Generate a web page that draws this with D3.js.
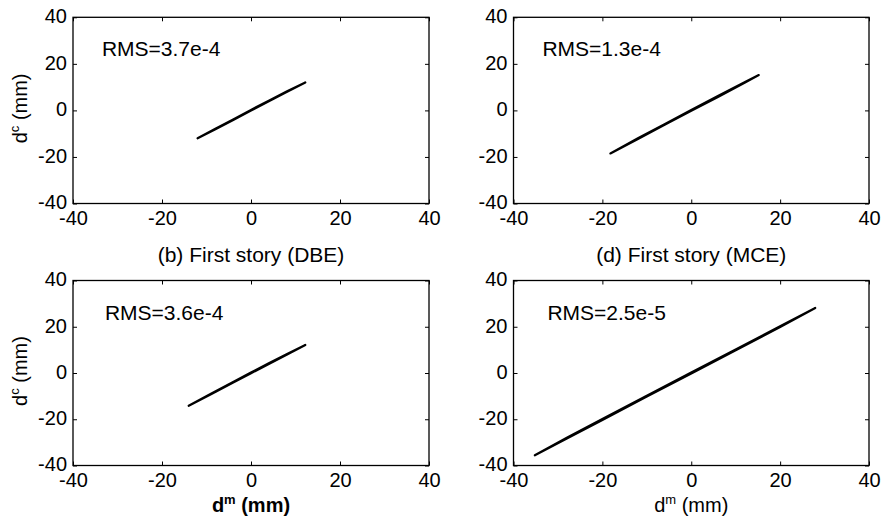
<!DOCTYPE html>
<html><head><meta charset="utf-8">
<script src="https://cdn.jsdelivr.net/npm/d3@7"></script>
<style>
body{margin:0;background:#fff}
svg{display:block}
text{font-family:"Liberation Sans",Arial,Helvetica,sans-serif;fill:#000}
</style>
</head><body>
<svg id="chart" width="883" height="522"></svg>
<script>
// ---- data ----
const tickValues = [-40, -20, 0, 20, 40];
const rmsLabels = ["RMS=3.7e-4", "RMS=1.3e-4", "RMS=3.6e-4", "RMS=2.5e-5"];
const captions = ["(b) First story (DBE)", "(d) First story (MCE)", "", ""];
const p1X = [-12.0, -8.0, -4.0, 0.0, 4.0, 8.0, 12.2, 8.0, 4.0, 0.0, -4.0, -8.0, -12.0];
const p1Y = [-12.0, -8.1, -4.1, -0.1, 3.9, 7.9, 12.0, 8.1, 4.2, 0.2, -3.9, -7.9, -12.0];
const p2X = [-18.2, -12.0, -6.0, 0.0, 6.0, 12.0, 15.2, 12.0, 6.0, 0.0, -6.0, -12.0, -18.2];
const p2Y = [-18.5, -12.3, -6.2, -0.2, 5.8, 11.9, 15.2, 12.1, 6.2, 0.2, -5.9, -12.0, -18.5];
const p3X = [-14.0, -9.0, -4.0, 0.0, 4.0, 8.0, 12.2, 8.0, 4.0, 0.0, -4.0, -9.0, -14.0];
const p3Y = [-14.2, -9.2, -4.1, -0.1, 3.9, 7.9, 12.1, 8.1, 4.2, 0.2, -3.9, -9.0, -14.2];
const p4X = [-35.2, -28.0, -20.0, -10.0, 0.0, 10.0, 20.0, 27.9, 20.0, 10.0, 0.0, -10.0, -20.0, -28.0, -35.2];
const p4Y = [-35.6, -28.3, -20.3, -10.2, -0.2, 9.8, 19.9, 28.1, 20.2, 10.2, 0.2, -9.8, -19.9, -28.0, -35.6];
const seriesX = [p1X, p2X, p3X, p4X];
const seriesY = [p1Y, p2Y, p3Y, p4Y];

// ---- layout ----
const cols = [[73, 429], [513.5, 869]];
const rows = [[17.3, 203.5], [280.5, 465.5]];
const svg = d3.select("#chart");
const fmt = d => String(d);

for (let i = 0; i < 4; i++) {
  const c = cols[i % 2], r = rows[Math.floor(i / 2)];
  const x = d3.scaleLinear().domain([-40, 40]).range(c);
  const y = d3.scaleLinear().domain([-40, 40]).range([r[1], r[0]]);
  const g = svg.append("g");

  const bottom = g.append("g").attr("transform", `translate(0,${r[1]})`)
    .call(d3.axisBottom(x).tickValues(tickValues).tickFormat(fmt).tickSizeInner(-4).tickSizeOuter(0).tickPadding(7));
  const left = g.append("g").attr("transform", `translate(${c[0]},0)`)
    .call(d3.axisLeft(y).tickValues(tickValues).tickFormat(fmt).tickSizeInner(-4).tickSizeOuter(0).tickPadding(6));
  const top = g.append("g").attr("transform", `translate(0,${r[0]})`)
    .call(d3.axisTop(x).tickValues(tickValues).tickSizeInner(-4).tickSizeOuter(0).tickFormat(""));
  const right = g.append("g").attr("transform", `translate(${c[1]},0)`)
    .call(d3.axisRight(y).tickValues(tickValues).tickSizeInner(-4).tickSizeOuter(0).tickFormat(""));
  [bottom, left, top, right].forEach(a => {
    a.select(".domain").remove();
    a.selectAll("line").attr("stroke", "#000").attr("stroke-width", 1);
    a.selectAll("text").attr("font-size", 20).attr("font-family", "Liberation Sans, Arial, sans-serif").attr("fill", "#000");
  });
  left.selectAll("text").attr("dy", "0.27em");

  g.append("rect").attr("x", c[0]).attr("y", r[0]).attr("width", c[1] - c[0]).attr("height", r[1] - r[0])
    .attr("fill", "none").attr("stroke", "#000").attr("stroke-width", 1.3);

  const pts = seriesX[i].map((v, k) => [v, seriesY[i][k]]);
  g.append("path").datum(pts)
    .attr("d", d3.line().x(d => x(d[0])).y(d => y(d[1])))
    .attr("fill", "none").attr("stroke", "#000").attr("stroke-width", 2.2)
    .attr("stroke-linejoin", "round").attr("stroke-linecap", "round");

  g.append("text").attr("x", x(-33.5) + (i === 3 ? 5 : (i === 2 ? 3 : 0))).attr("y", r[0] + 39)
    .attr("font-size", 21).text(rmsLabels[i]);

  if (captions[i]) {
    g.append("text").attr("x", (c[0] + c[1]) / 2).attr("y", r[1] + 58)
      .attr("text-anchor", "middle").attr("font-size", 21).text(captions[i]);
  }

  if (i % 2 === 0) {
    const yl = g.append("text").attr("transform", `translate(27,${(r[0] + r[1]) / 2 - 2}) rotate(-90)`)
      .attr("text-anchor", "middle").attr("font-size", 20);
    yl.append("tspan").text("d");
    yl.append("tspan").attr("font-size", 13).attr("dy", -8).text("c");
    yl.append("tspan").attr("dy", 8).text(" (mm)");
  }

  if (i >= 2) {
    const xl = g.append("text").attr("x", (c[0] + c[1]) / 2).attr("y", r[1] + 46)
      .attr("text-anchor", "middle").attr("font-size", 20)
      .attr("font-weight", i === 2 ? "bold" : "normal");
    xl.append("tspan").text("d");
    xl.append("tspan").attr("font-size", 13).attr("dy", -8).text("m");
    xl.append("tspan").attr("dy", 8).text(" (mm)");
  }
}
</script>
</body></html>
